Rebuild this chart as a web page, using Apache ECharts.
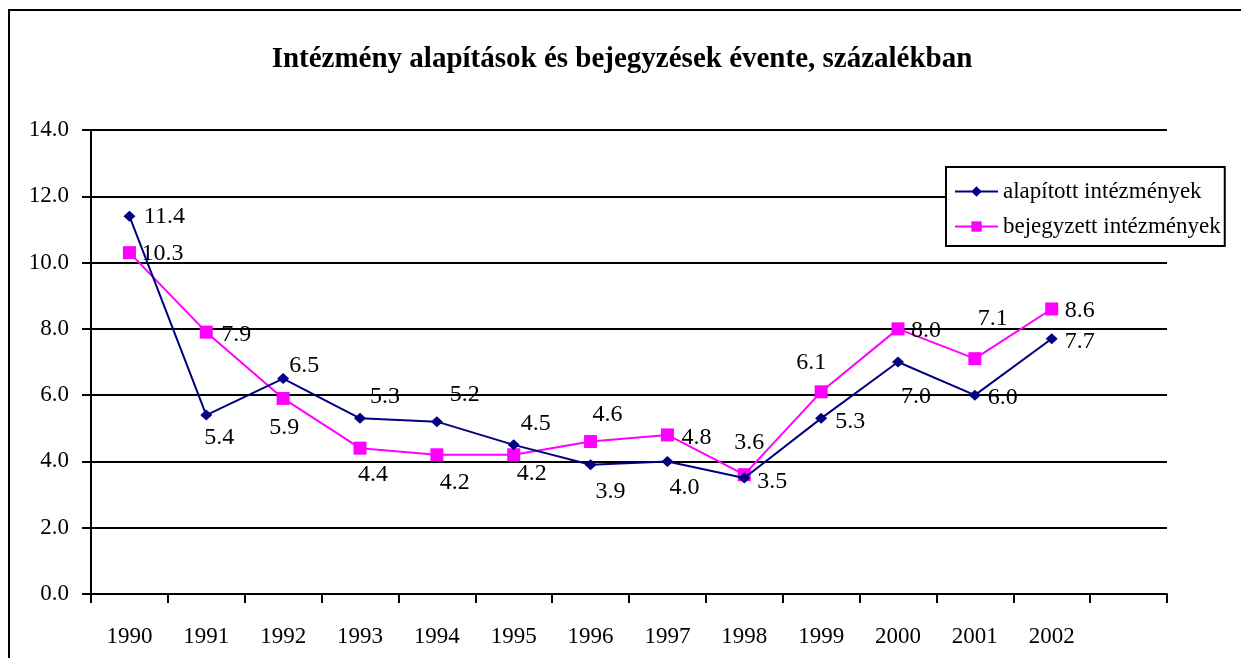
<!DOCTYPE html>
<html>
<head>
<meta charset="utf-8">
<script src="https://cdn.jsdelivr.net/npm/echarts@6/dist/echarts.min.js"></script>
<style>
html, body { margin: 0; padding: 0; background: #fff; }
#main { width: 1241px; height: 658px; }
</style>
</head>
<body>
<div id="main"></div>
<script>
var years = ['1990','1991','1992','1993','1994','1995','1996','1997','1998','1999','2000','2001','2002',''];
var alapitott = [11.4, 5.4, 6.5, 5.3, 5.2, 4.5, 3.9, 4.0, 3.5, 5.3, 7.0, 6.0, 7.7];
var bejegyzett = [10.3, 7.9, 5.9, 4.4, 4.2, 4.2, 4.6, 4.8, 3.6, 6.1, 8.0, 7.1, 8.6];

// label offsets from the point (px), hand placed like in the original
var alapOffsets = [[35,1],[13,23],[21,-13],[25,-22],[28,-27],[22,-21],[20,27],[17,26],[28,4],[29,3],[18,35],[28,3],[28,3]];
var bejOffsets  = [[33,1],[30,3],[1,29],[13,27],[18,28],[18,19],[17,-27],[29,3],[5,-32],[-10,-29],[28,2],[18,-40],[28,2]];

var labelFont = 'Liberation Serif';

function withLabels(values, offsets) {
    return values.map(function (v, i) {
        return {
            value: v,
            label: { offset: offsets[i] }
        };
    });
}

var myChart = echarts.init(document.getElementById('main'));
var option = {
    animation: false,
    backgroundColor: '#fff',
    title: {
        text: 'Intézmény alapítások és bejegyzések évente, százalékban',
        left: 617,
        textAlign: 'center',
        top: 40,
        textStyle: {
            fontFamily: labelFont,
            fontWeight: 'bold',
            fontSize: 29,
            color: '#000'
        }
    },
    graphic: [{
        type: 'rect',
        shape: { x: 9, y: 10, width: 1400, height: 800 },
        style: { fill: 'none', stroke: '#000', lineWidth: 2 },
        silent: true
    }],
    legend: {
        orient: 'vertical',
        left: 946,
        top: 167,
        padding: [13, 4, 8, 8],
        itemGap: 12,
        itemWidth: 43,
        itemHeight: 13,
        backgroundColor: '#fff',
        borderColor: '#000',
        borderWidth: 2,
        textStyle: {
            fontFamily: labelFont,
            fontSize: 23,
            color: '#000'
        },
        data: ['alapított intézmények', 'bejegyzett intézmények']
    },
    grid: {
        left: 91,
        top: 130,
        right: 74,
        bottom: 64
    },
    xAxis: {
        type: 'category',
        data: years,
        boundaryGap: true,
        axisLine: { lineStyle: { color: '#000', width: 2 } },
        axisTick: { show: true, length: 9, lineStyle: { color: '#000', width: 2 } },
        axisLabel: {
            margin: 31,
            fontFamily: labelFont,
            fontSize: 23,
            color: '#000'
        },
        splitLine: { show: false }
    },
    yAxis: {
        type: 'value',
        min: 0,
        max: 14,
        interval: 2,
        axisLine: { show: true, lineStyle: { color: '#000', width: 2 } },
        axisTick: { show: true, length: 9, lineStyle: { color: '#000', width: 2 } },
        axisLabel: {
            margin: 22,
            fontFamily: labelFont,
            fontSize: 23,
            color: '#000',
            formatter: function (v) { return v.toFixed(1); }
        },
        splitLine: { show: true, lineStyle: { color: '#000', width: 2 } }
    },
    series: [
        // alapított
        {
            name: 'alapított intézmények',
            type: 'line',
            symbol: 'diamond',
            symbolSize: [12, 11],
            itemStyle: { color: '#000080' },
            lineStyle: { color: '#000080', width: 2 },
            label: {
                show: true,
                position: 'inside',
                fontFamily: labelFont,
                fontSize: 24,
                color: '#000',
                formatter: function (p) { return p.value.toFixed(1); }
            },
            data: withLabels(alapitott, alapOffsets),
            z: 3
        },
        // bejegyzett
        {
            name: 'bejegyzett intézmények',
            type: 'line',
            symbol: 'rect',
            symbolSize: 13,
            itemStyle: { color: '#FF00FF' },
            lineStyle: { color: '#FF00FF', width: 2 },
            label: {
                show: true,
                position: 'inside',
                fontFamily: labelFont,
                fontSize: 24,
                color: '#000',
                formatter: function (p) { return p.value.toFixed(1); }
            },
            data: withLabels(bejegyzett, bejOffsets),
            z: 2
        }
    ]
};
myChart.setOption(option);
</script>
</body>
</html>
